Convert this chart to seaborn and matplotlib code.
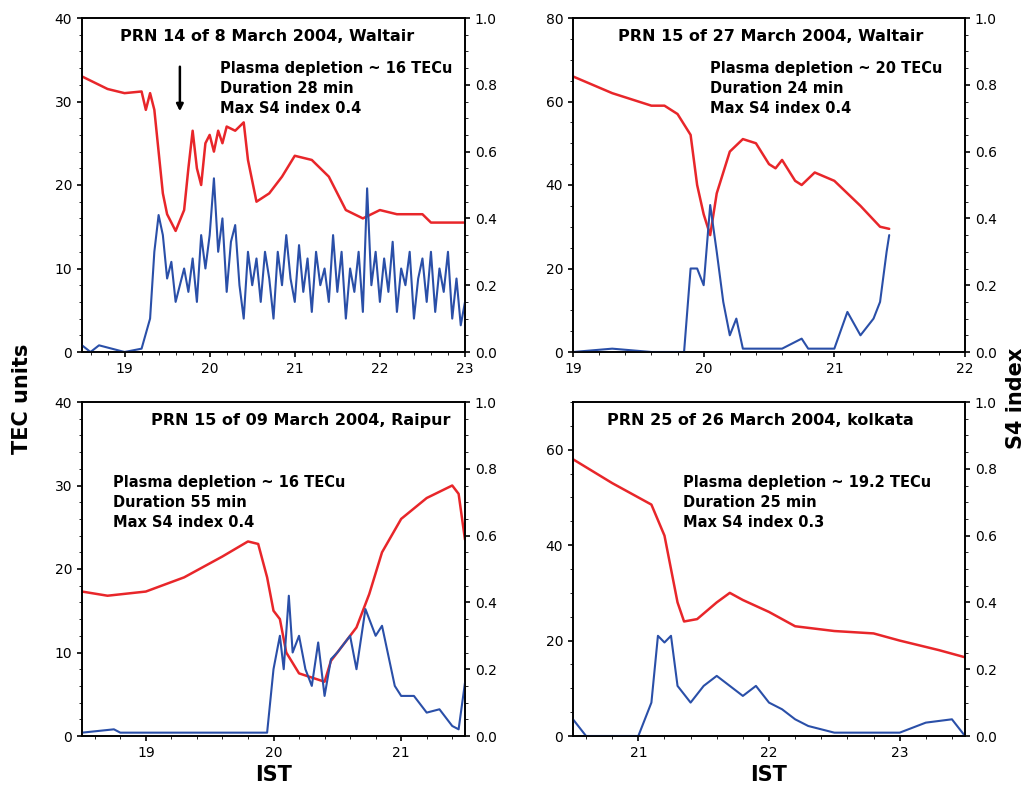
import matplotlib
matplotlib.use("Agg")
import matplotlib.pyplot as plt
import seaborn as sns
import pandas as pd

sns.set_style("ticks")
plt.rcParams['font.family'] = ['DejaVu Sans']
plt.rcParams['text.color'] = 'black'
plt.rcParams['xtick.color'] = 'black'
plt.rcParams['ytick.color'] = 'black'
plt.rcParams['axes.edgecolor'] = 'black'
plt.rcParams['axes.labelcolor'] = 'black'

# Panel A: PRN 14, 8 March 2004, Waltair
a_tec_t = [18.5,18.8,19.0,19.2,19.25,19.3,19.35,19.4,19.45,19.5,19.6,19.7,19.75,19.8,19.85,19.9,19.95,20.0,20.05,20.1,20.15,20.2,20.3,20.4,20.45,20.55,20.7,20.85,21.0,21.2,21.4,21.6,21.8,22.0,22.2,22.5,22.6,23.0]
a_tec = [33,31.5,31,31.2,29,31,29,24,19,16.5,14.5,17,22,26.5,22,20,25,26,24,26.5,25,27,26.5,27.5,23,18,19,21,23.5,23,21,17,16,17,16.5,16.5,15.5,15.5]
a_s4_t = [18.5,18.6,18.7,19.0,19.2,19.3,19.35,19.4,19.45,19.5,19.55,19.6,19.65,19.7,19.75,19.8,19.85,19.9,19.95,20.0,20.05,20.1,20.15,20.2,20.25,20.3,20.35,20.4,20.45,20.5,20.55,20.6,20.65,20.7,20.75,20.8,20.85,20.9,20.95,21.0,21.05,21.1,21.15,21.2,21.25,21.3,21.35,21.4,21.45,21.5,21.55,21.6,21.65,21.7,21.75,21.8,21.85,21.9,21.95,22.0,22.05,22.1,22.15,22.2,22.25,22.3,22.35,22.4,22.45,22.5,22.55,22.6,22.65,22.7,22.75,22.8,22.85,22.9,22.95,23.0]
a_s4 = [0.02,0.0,0.02,0.0,0.01,0.1,0.3,0.41,0.35,0.22,0.27,0.15,0.2,0.25,0.18,0.28,0.15,0.35,0.25,0.35,0.52,0.3,0.4,0.18,0.33,0.38,0.2,0.1,0.3,0.2,0.28,0.15,0.3,0.22,0.1,0.3,0.2,0.35,0.22,0.15,0.32,0.18,0.28,0.12,0.3,0.2,0.25,0.15,0.35,0.18,0.3,0.1,0.25,0.18,0.3,0.12,0.49,0.2,0.3,0.15,0.28,0.18,0.33,0.12,0.25,0.2,0.3,0.1,0.22,0.28,0.15,0.3,0.12,0.25,0.18,0.3,0.1,0.22,0.08,0.15]

# Panel B: PRN 15, 27 March 2004, Waltair
b_tec_t = [19.0,19.3,19.6,19.7,19.8,19.9,19.95,20.0,20.05,20.1,20.2,20.3,20.4,20.5,20.55,20.6,20.7,20.75,20.85,21.0,21.2,21.35,21.42]
b_tec = [66,62,59,59,57,52,40,33,28,38,48,51,50,45,44,46,41,40,43,41,35,30,29.5]
b_s4_t = [19.0,19.3,19.6,19.85,19.9,19.95,20.0,20.05,20.1,20.15,20.2,20.25,20.3,20.6,20.75,20.8,21.0,21.1,21.2,21.3,21.35,21.4,21.42]
b_s4 = [0.0,0.01,0.0,0.0,0.25,0.25,0.2,0.44,0.3,0.15,0.05,0.1,0.01,0.01,0.04,0.01,0.01,0.12,0.05,0.1,0.15,0.3,0.35]

# Panel C: PRN 15, 09 March 2004, Raipur
c_tec_t = [18.5,18.7,19.0,19.3,19.6,19.8,19.88,19.95,20.0,20.05,20.1,20.2,20.3,20.4,20.45,20.55,20.65,20.75,20.85,21.0,21.2,21.4,21.45,21.5]
c_tec = [17.3,16.8,17.3,19,21.5,23.3,23,19,15,14,10,7.5,7,6.5,9,11,13,17,22,26,28.5,30,29,23.5]
c_s4_t = [18.5,18.75,18.8,19.2,19.95,20.0,20.05,20.08,20.12,20.15,20.2,20.25,20.3,20.35,20.4,20.45,20.5,20.6,20.65,20.72,20.8,20.85,20.95,21.0,21.1,21.2,21.3,21.4,21.45,21.5]
c_s4 = [0.01,0.02,0.01,0.01,0.01,0.2,0.3,0.2,0.42,0.25,0.3,0.2,0.15,0.28,0.12,0.23,0.25,0.3,0.2,0.38,0.3,0.33,0.15,0.12,0.12,0.07,0.08,0.03,0.02,0.16]

# Panel D: PRN 25, 26 March 2004, kolkata
d_tec_t = [20.5,20.8,21.0,21.1,21.2,21.25,21.3,21.35,21.45,21.6,21.7,21.8,22.0,22.2,22.5,22.8,23.0,23.3,23.5]
d_tec = [58,53,50,48.5,42,35,28,24,24.5,28,30,28.5,26,23,22,21.5,20,18,16.5]
d_s4_t = [20.5,20.6,21.0,21.1,21.15,21.2,21.25,21.3,21.4,21.5,21.6,21.7,21.8,21.9,22.0,22.1,22.2,22.3,22.5,23.0,23.2,23.4,23.5]
d_s4 = [0.05,0.0,0.0,0.1,0.3,0.28,0.3,0.15,0.1,0.15,0.18,0.15,0.12,0.15,0.1,0.08,0.05,0.03,0.01,0.01,0.04,0.05,0.0]

panels = [
    dict(tt=a_tec_t, tv=a_tec, st=a_s4_t, sv=a_s4, xl=(18.5, 23), xt=[19,20,21,22,23], yl=(0,40), yt=[0,10,20,30,40],
         title="PRN 14 of 8 March 2004, Waltair", info=["Plasma depletion ~ 16 TECu","Duration 28 min","Max S4 index 0.4"]),
    dict(tt=b_tec_t, tv=b_tec, st=b_s4_t, sv=b_s4, xl=(19, 22), xt=[19,20,21,22], yl=(0,80), yt=[0,20,40,60,80],
         title="PRN 15 of 27 March 2004, Waltair", info=["Plasma depletion ~ 20 TECu","Duration 24 min","Max S4 index 0.4"]),
    dict(tt=c_tec_t, tv=c_tec, st=c_s4_t, sv=c_s4, xl=(18.5, 21.5), xt=[19,20,21], yl=(0,40), yt=[0,10,20,30,40],
         title="PRN 15 of 09 March 2004, Raipur", info=["Plasma depletion ~ 16 TECu","Duration 55 min","Max S4 index 0.4"]),
    dict(tt=d_tec_t, tv=d_tec, st=d_s4_t, sv=d_s4, xl=(20.5, 23.5), xt=[21,22,23], yl=(0,70), yt=[0,20,40,60],
         title="PRN 25 of 26 March 2004, kolkata", info=["Plasma depletion ~ 19.2 TECu","Duration 25 min","Max S4 index 0.3"]),
]
boxes = [(82,18,465,352),(573,18,965,352),(82,402,465,736),(573,402,965,736)]
info_pos = [(0.36,0.87),(0.35,0.87),(0.08,0.78),(0.28,0.78)]
title_pos = [(0.1,0.93),(0.115,0.93),(0.18,0.93),(0.087,0.93)]

W, H = 1027, 797
fig = plt.figure(figsize=(W/100, H/100), dpi=100)
for i, (p, b) in enumerate(zip(panels, boxes)):
    ax = fig.add_axes([b[0]/W, 1-b[3]/H, (b[2]-b[0])/W, (b[3]-b[1])/H])
    ax2 = ax.twinx()
    sns.lineplot(x=p['tt'], y=p['tv'], ax=ax, color='#e8262a', lw=1.8)
    sns.lineplot(x=p['st'], y=p['sv'], ax=ax2, color='#2a4fa8', lw=1.5)
    ax.set_xlim(*p['xl']); ax.set_xticks(p['xt'])
    ax.set_ylim(*p['yl']); ax.set_yticks(p['yt'])
    ax2.set_ylim(0, 1); ax2.set_yticks([0,0.2,0.4,0.6,0.8,1.0])
    ax2.set_yticklabels(['0.0','0.2','0.4','0.6','0.8','1.0'])
    for a in (ax, ax2):
        a.tick_params(labelsize=10, width=1.2, direction='out')
        for s in a.spines.values():
            s.set_linewidth(1.2)
    ax.minorticks_on(); ax2.minorticks_on()
    ax.text(*title_pos[i], p['title'], transform=ax.transAxes, fontsize=11.5, fontweight='bold')
    ax.text(*info_pos[i], "\n".join(p['info']), transform=ax.transAxes, fontsize=10.5,
            fontweight='bold', va='top', linespacing=1.4)
    if i == 0:
        ax.annotate("", xy=(19.65, 28.5), xytext=(19.65, 34.5),
                    arrowprops=dict(arrowstyle='-|>', color='black', lw=1.8))
    if i >= 2:
        ax.set_xlabel("IST", fontsize=15, fontweight='bold')

fig.text(0.012, 0.5, "TEC units", rotation=90, va='center', fontsize=15, fontweight='bold')
fig.text(0.999, 0.5, "S4 index", rotation=90, va='center', ha='right', fontsize=15, fontweight='bold')
fig.savefig("out.png", dpi=100)
